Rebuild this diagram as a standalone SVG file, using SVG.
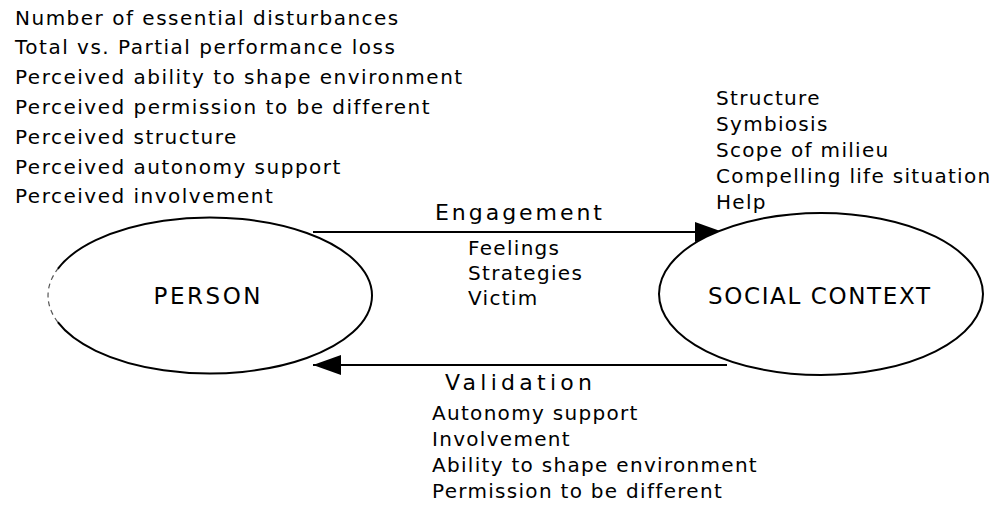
<svg xmlns="http://www.w3.org/2000/svg" width="1001" height="518" viewBox="0 0 1001 518">
  <style>
    text { font-family: "DejaVu Sans", "Liberation Sans", sans-serif; fill: #000; }
    .item { font-size: 20px; letter-spacing: 1.3px; }
    #person-factors { letter-spacing: 1.5px; }
    .flow { font-size: 22px; }
    .node-label { font-size: 23px; }
    .shape { fill: #fff; stroke: #000; stroke-width: 2; }
    .outline { fill: none; stroke: #000; stroke-width: 2; }
    .faint { fill: none; stroke: #555; stroke-width: 1.2; stroke-dasharray: 5 4; }
    .link { fill: none; stroke: #000; stroke-width: 2; }
  </style>
  <defs>
    <marker id="head" viewBox="0 0 28 20" refX="28" refY="10" markerWidth="28" markerHeight="20" markerUnits="userSpaceOnUse" orient="auto">
      <path d="M0,0 L28,10 L0,20 Z" fill="#000"/>
    </marker>
  </defs>

  <rect width="1001" height="518" fill="#fff"/>

  <!-- person-side factors -->
  <g id="person-factors" class="item">
    <text x="15" y="25">Number of essential disturbances</text>
    <text x="15" y="54">Total vs. Partial performance loss</text>
    <text x="15" y="84">Perceived ability to shape environment</text>
    <text x="15" y="114">Perceived permission to be different</text>
    <text x="15" y="144">Perceived structure</text>
    <text x="15" y="174">Perceived autonomy support</text>
    <text x="15" y="203">Perceived involvement</text>
  </g>

  <!-- context-side factors -->
  <g id="context-factors" class="item">
    <text x="716" y="105">Structure</text>
    <text x="716" y="131">Symbiosis</text>
    <text x="716" y="157">Scope of milieu</text>
    <text x="716" y="183">Compelling life situation</text>
    <text x="716" y="209">Help</text>
  </g>

  <!-- connectors -->
  <g id="connectors">
    <line class="link" x1="313" y1="232" x2="723" y2="232" marker-end="url(#head)"/>
    <line class="link" x1="727" y1="365" x2="313" y2="365" marker-end="url(#head)"/>
  </g>

  <g id="person">
    <ellipse cx="210" cy="295.5" rx="162" ry="78" fill="#fff"/>
    <path class="outline" d="M57.8,268.8 A162,78 0 1 1 57.8,322.2"/>
    <path class="faint" d="M57.8,322.2 A162,78 0 0 1 57.8,268.8"/>
    <text class="node-label" x="207" y="304" text-anchor="middle" textLength="107" lengthAdjust="spacing">PERSON</text>
  </g>

  <g id="social-context">
    <ellipse class="shape" cx="821" cy="294" rx="162" ry="81"/>
    <text class="node-label" x="819" y="304" text-anchor="middle" textLength="222" lengthAdjust="spacing">SOCIAL CONTEXT</text>
  </g>

  <g id="engagement">
    <text class="flow" x="435" y="220" textLength="167" lengthAdjust="spacing">Engagement</text>
    <g class="item">
      <text x="468" y="255">Feelings</text>
      <text x="468" y="280">Strategies</text>
      <text x="468" y="305">Victim</text>
    </g>
  </g>

  <g id="validation">
    <text class="flow" x="445" y="390" textLength="147" lengthAdjust="spacing">Validation</text>
    <g class="item">
      <text x="432" y="420">Autonomy support</text>
      <text x="432" y="446">Involvement</text>
      <text x="432" y="472">Ability to shape environment</text>
      <text x="432" y="498">Permission to be different</text>
    </g>
  </g>
</svg>
